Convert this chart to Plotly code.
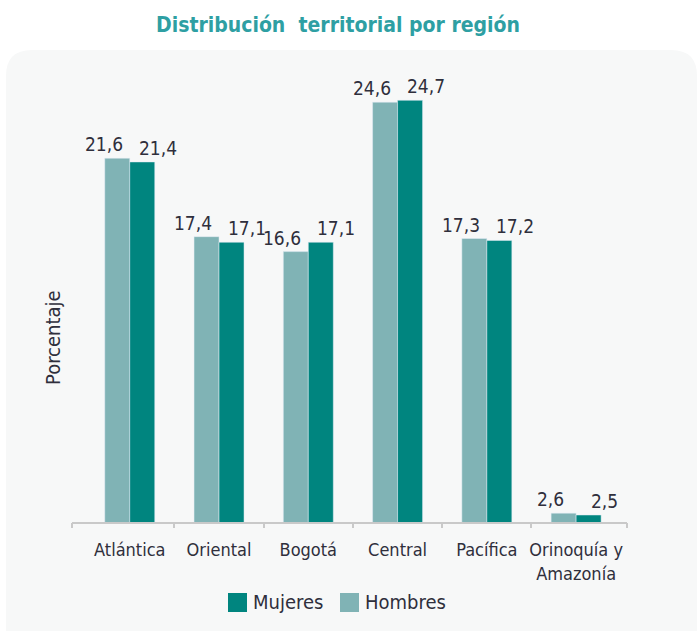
import plotly.graph_objects as go

# ---- data ----
categories = ["Atlántica", "Oriental", "Bogotá", "Central", "Pacífica", "Orinoquía y<br>Amazonía"]
hombres = [21.6, 17.4, 16.6, 24.6, 17.3, 2.6]
mujeres = [21.4, 17.1, 17.1, 24.7, 17.2, 2.5]
series_names = ["Hombres", "Mujeres"]
title_text = "Distribución  territorial por región"
y_title = "Porcentaje"

# ---- style ----
W, H = 699, 631
ML, MR, MT, MB = 72, 72, 60, 109
PW, PH = W - ML - MR, H - MT - MB
C_H = "#80b3b5"
C_M = "#00857f"
C_TITLE = "#2e9fa3"
C_TXT = "#2f2f3c"
FONT = "DejaVu Sans Condensed, Liberation Sans Narrow, sans-serif"
X_RANGE = [-0.647, 5.57]
Y_RANGE = [2.125, 2.125 + PH / 18.68]


def px_x(p):
    return (p - ML) / PW


def px_y(p):
    return (H - MB - p) / PH


def fmt(v):
    return f"{v:.1f}".replace(".", ",")


fig = go.Figure()
fig.add_trace(go.Bar(x=categories, y=hombres, name=series_names[0], marker_color=C_H,
                     showlegend=False))
fig.add_trace(go.Bar(x=categories, y=mujeres, name=series_names[1], marker_color=C_M,
                     showlegend=False))
# helper axis for boundary ticks
fig.add_trace(go.Scatter(x=[], y=[], xaxis="x2", yaxis="y", showlegend=False, hoverinfo="skip"))

# value labels
for cat, vh, vm in zip(categories, hombres, mujeres):
    fig.add_annotation(x=cat, y=vh, text=fmt(vh), showarrow=False, xanchor="center",
                       yanchor="bottom", xshift=-26, yshift=1,
                       font=dict(family=FONT, size=19, color=C_TXT))
    fig.add_annotation(x=cat, y=vm, text=fmt(vm), showarrow=False, xanchor="center",
                       yanchor="bottom", xshift=28, yshift=1,
                       font=dict(family=FONT, size=19, color=C_TXT))

# y title
fig.add_annotation(xref="paper", yref="paper", x=px_x(53), y=px_y(338), text=y_title,
                   textangle=-90, showarrow=False, xanchor="center", yanchor="middle",
                   font=dict(family=FONT, size=20, color=C_TXT))

# manual legend (Mujeres, Hombres)
leg = [(series_names[1], C_M, 228, 251), (series_names[0], C_H, 340, 363)]
for name, col, sx, tx in leg:
    fig.add_shape(type="rect", xref="paper", yref="paper", x0=px_x(sx), x1=px_x(sx + 19),
                  y0=px_y(612), y1=px_y(593), fillcolor=col, line=dict(width=0))
    fig.add_annotation(xref="paper", yref="paper", x=px_x(tx), y=px_y(602), text=name,
                       showarrow=False, xanchor="left", yanchor="middle",
                       font=dict(family=FONT, size=20, color=C_TXT))

# rounded background panel
x0, x1, y0, y1, r = 6, 697, 50, 680, 26
pts = [
    ("M", x0 + r, y0), ("L", x1 - r, y0), ("Q", x1, y0, x1, y0 + r), ("L", x1, y1 - r),
    ("Q", x1, y1, x1 - r, y1), ("L", x0 + r, y1), ("Q", x0, y1, x0, y1 - r),
    ("L", x0, y0 + r), ("Q", x0, y0, x0 + r, y0),
]
path = ""
for p in pts:
    cmd = p[0]
    coords = p[1:]
    s = []
    for i in range(0, len(coords), 2):
        s.append(f"{px_x(coords[i]):.5f},{px_y(coords[i+1]):.5f}")
    path += cmd + " ".join(s) + " "
path += "Z"
fig.add_shape(type="path", path=path, xref="paper", yref="paper", layer="below",
              fillcolor="#f7f8f8", line=dict(width=0))

fig.update_layout(
    width=W, height=H,
    margin=dict(l=ML, r=MR, t=MT, b=MB),
    paper_bgcolor="white", plot_bgcolor="rgba(0,0,0,0)",
    barmode="group", bargap=0.44, bargroupgap=0,
    title=dict(text=f"<b>{title_text}</b>", x=338 / W, xanchor="center", y=1 - 25 / H,
               yanchor="middle", font=dict(family=FONT, size=21, color=C_TITLE)),
    xaxis=dict(type="category", range=X_RANGE, showline=True, linecolor="#c9c9c9",
               linewidth=1.5, ticks="", showgrid=False, zeroline=False, tickangle=0,
               automargin=False,
               tickfont=dict(family=FONT, size=18, color=C_TXT), ticklabelstandoff=11),
    xaxis2=dict(overlaying="x", anchor="y", side="bottom", range=X_RANGE,
                tickvals=[X_RANGE[0], 0.5, 1.5, 2.5, 3.5, 4.5, X_RANGE[1]],
                ticks="outside", ticklen=5, tickwidth=1.5, tickcolor="#c9c9c9",
                showticklabels=False, showgrid=False, zeroline=False, showline=False,
                automargin=False),
    yaxis=dict(range=Y_RANGE, showticklabels=False, showgrid=False, zeroline=False,
               showline=False, ticks="", automargin=False),
    showlegend=False,
)

fig.write_html("out.html", config={"displayModeBar": False},
               post_script="document.body.style.margin='0';")
